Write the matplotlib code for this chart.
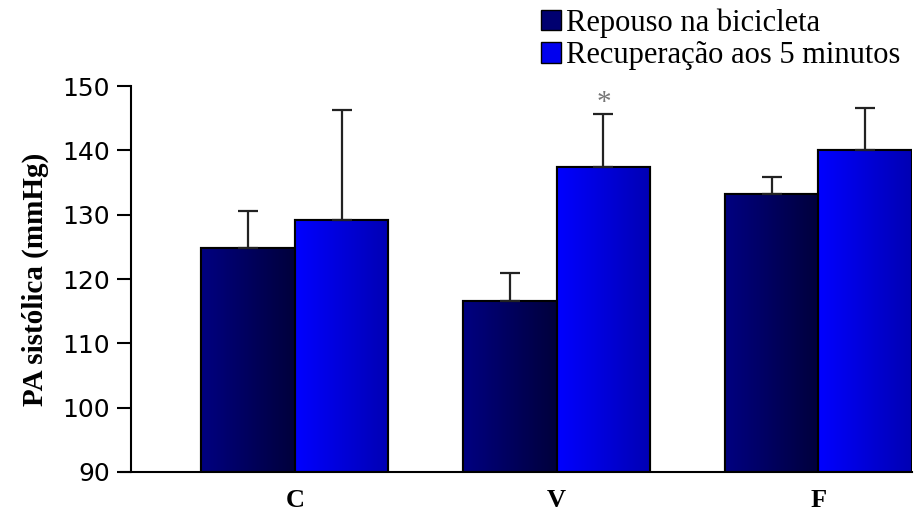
import matplotlib
matplotlib.use("Agg")
import matplotlib.pyplot as plt
import numpy as np
from matplotlib.colors import LinearSegmentedColormap
from matplotlib.patches import Patch

categories = ["C", "V", "F"]
repouso = [124.8, 116.6, 133.2]
repouso_err = [5.8, 4.3, 2.6]
recuperacao = [129.2, 137.4, 140.0]
recuperacao_err = [17.1, 8.2, 6.6]
series_names = ["Repouso na bicicleta", "Recuperação aos 5 minutos"]

serif = ["Liberation Serif", "DejaVu Serif"]

fig = plt.figure(figsize=(9.17, 5.15), dpi=100)
ax = fig.add_axes([0.1429, 0.0835, 0.8516, 0.7495])

x = np.arange(len(categories))
width = 0.357

dark_cmap = LinearSegmentedColormap.from_list("dark", ["#000080", "#00003c"])
bright_cmap = LinearSegmentedColormap.from_list("bright", ["#0000ff", "#0000b4"])
grad = np.linspace(0, 1, 64).reshape(1, -1)


def gradient_bars(xpos, values, errs, cmap, solid):
    bars = ax.bar(xpos, [v - 90 for v in values], width, bottom=90,
                  color=solid, edgecolor="black", linewidth=1.5, zorder=2)
    for b in bars:
        x0, y0 = b.get_x(), b.get_y()
        im = ax.imshow(grad, cmap=cmap, aspect="auto", zorder=2.5,
                       extent=[x0, x0 + b.get_width(), y0, y0 + b.get_height()])
        im.set_clip_path(b)
        edge = plt.Rectangle((x0, y0), b.get_width(), b.get_height(), fill=False,
                             edgecolor="black", linewidth=1.5, zorder=3)
        ax.add_patch(edge)
    ax.errorbar(xpos, values, yerr=[np.zeros(len(errs)), errs], fmt="none",
                ecolor="#222222", elinewidth=1.6, capsize=7, capthick=1.6, zorder=4)


gradient_bars(x - width / 2, repouso, repouso_err, dark_cmap, "#000066")
gradient_bars(x + width / 2, recuperacao, recuperacao_err, bright_cmap, "#0000e0")

# asterisco de significância
ax.text(x[1] + width / 2, recuperacao[1] + recuperacao_err[1] + 1.8, "*",
        ha="center", va="center", fontsize=21, color="#777777", family=serif)

ax.set_xlim(-0.626, 2.357)
ax.set_ylim(90, 150)
ax.set_yticks(range(90, 151, 10))
ax.set_xticks(x)
ax.set_xticklabels(categories, fontsize=19, fontweight="bold", family=serif)
ax.tick_params(axis="x", length=0, pad=12)
ax.tick_params(axis="y", length=10, width=1.5, labelsize=18, pad=5)
for lab in ax.get_yticklabels():
    lab.set_family("DejaVu Sans")
ax.spines["top"].set_visible(False)
ax.spines["right"].set_visible(False)
ax.spines["left"].set_linewidth(1.5)
ax.spines["bottom"].set_linewidth(1.5)
ax.spines["bottom"].set_bounds(-0.665, 2.357)
ax.set_ylabel("PA sistólica (mmHg)", fontsize=21, fontweight="bold", family=serif, labelpad=10)

handles = [Patch(facecolor="#000070", edgecolor="black"),
           Patch(facecolor="#0000ee", edgecolor="black")]
fig.legend(handles, series_names, loc="upper left", bbox_to_anchor=(0.577, 1.008),
           frameon=False, prop={"family": serif, "size": 22},
           handlelength=0.65, handleheight=0.65, handletextpad=0.15,
           labelspacing=0.12, borderaxespad=0)

fig.savefig("out.png", dpi=100)
